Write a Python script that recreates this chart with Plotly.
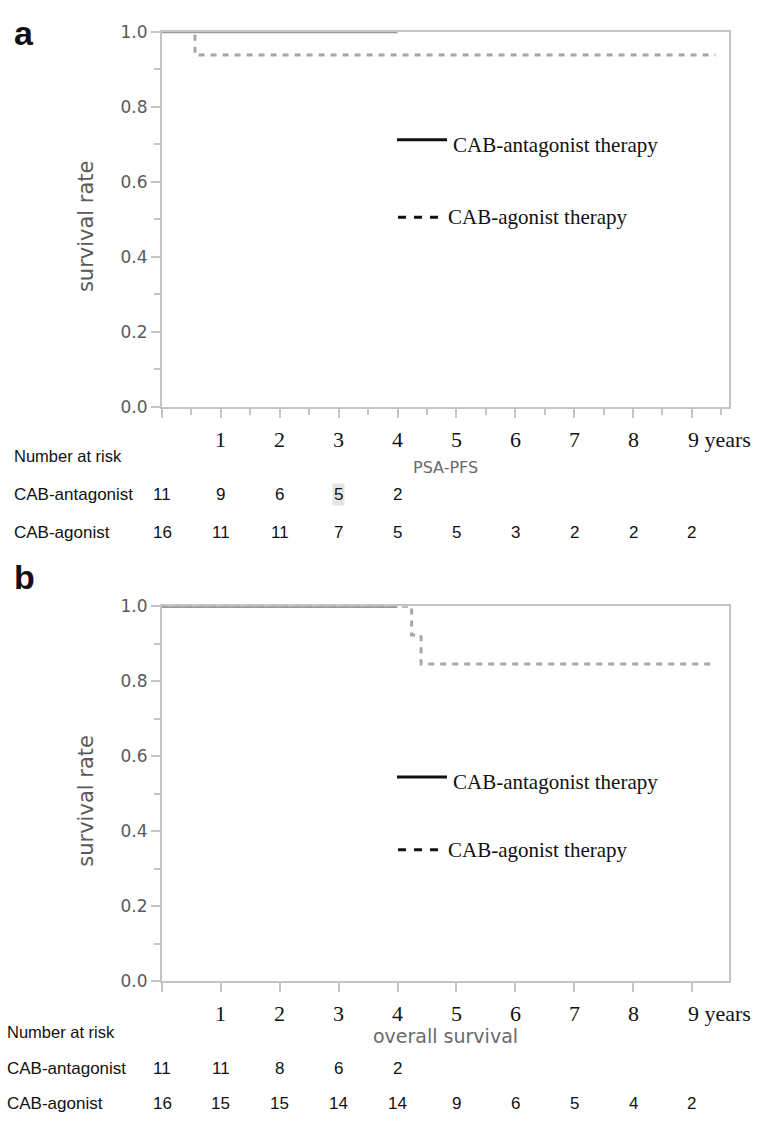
import plotly.graph_objects as go

W, H = 765, 1125

# ---------------- data ----------------
years = [0, 1, 2, 3, 4, 5, 6, 7, 8, 9]
tick_labels = ["1", "2", "3", "4", "5", "6", "7", "8", "9 years"]

# Panel a: PSA-PFS
a_antag_t = [0, 4.0]
a_antag_s = [1.0, 1.0]
a_agon_t = [0, 0.56, 9.4]
a_agon_s = [1.0, 0.9375, 0.9375]
a_risk_antag = [11, 9, 6, 5, 2]
a_risk_agon = [16, 11, 11, 7, 5, 5, 3, 2, 2, 2]

# Panel b: overall survival
b_antag_t = [0, 4.0]
b_antag_s = [1.0, 1.0]
b_agon_t = [0, 4.24, 4.4, 9.4]
b_agon_s = [1.0, 0.923, 0.846, 0.846]
b_risk_antag = [11, 11, 8, 6, 2]
b_risk_agon = [16, 15, 15, 14, 14, 9, 6, 5, 4, 2]

# ---------------- helpers ----------------
def px(p):
    return p / W

def py(p):
    return 1 - p / H

AX_COL = "#c4c4c4"
CURVE_SOLID = "#9a9a9a"
CURVE_DASH = "#a6a6a6"
TICK_FONT = dict(family="DejaVu Sans", size=17, color="#5a5a5a")
SERIF = "Liberation Serif"
SANS = "Liberation Sans"

fig = go.Figure()

for (t, s, xa, ya, dash, col, w) in [
    (a_agon_t, a_agon_s, "x", "y", "6px,6px", CURVE_DASH, 3),
    (a_antag_t, a_antag_s, "x", "y", "solid", CURVE_SOLID, 3.5),
    (b_agon_t, b_agon_s, "x2", "y2", "6px,6px", CURVE_DASH, 3),
    (b_antag_t, b_antag_s, "x2", "y2", "solid", CURVE_SOLID, 3.5),
]:
    fig.add_trace(go.Scatter(x=t, y=s, xaxis=xa, yaxis=ya, mode="lines",
                             line=dict(color=col, width=w, dash=dash, shape="hv"),
                             showlegend=False, hoverinfo="skip", cliponaxis=False))

xdom = [px(162), px(729)]
xrange_ = [0, 9.63]

def xaxis(minor):
    d = dict(domain=xdom, range=xrange_, tickvals=years, showticklabels=False,
             ticks="outside", ticklen=9, tickwidth=2, tickcolor=AX_COL,
             showline=True, linecolor=AX_COL, linewidth=2, mirror=True,
             showgrid=False, zeroline=False, fixedrange=True)
    if minor:
        d["minor"] = dict(tick0=0, dtick=0.5, ticks="outside", ticklen=6,
                          tickwidth=1.5, tickcolor=AX_COL, showgrid=False)
    return d

def yaxis(dom, anchor):
    return dict(domain=dom, range=[0, 1.0], anchor=anchor,
                tickvals=[0, 0.2, 0.4, 0.6, 0.8, 1.0],
                ticktext=["0.0", "0.2", "0.4", "0.6", "0.8", "1.0"],
                ticks="outside", ticklen=9, tickwidth=2, tickcolor=AX_COL,
                tickfont=TICK_FONT,
                minor=dict(tick0=0, dtick=0.1, ticks="outside", ticklen=6,
                           tickwidth=1.5, tickcolor=AX_COL, showgrid=False),
                showline=True, linecolor=AX_COL, linewidth=2, mirror=True,
                showgrid=False, zeroline=False, fixedrange=True)

fig.update_layout(
    width=W, height=H,
    margin=dict(l=0, r=0, t=0, b=0),
    paper_bgcolor="white", plot_bgcolor="white",
    xaxis=dict(xaxis(True), anchor="y"),
    yaxis=yaxis([py(404), py(22)], "x"),
    xaxis2=dict(xaxis(False), anchor="y2"),
    yaxis2=yaxis([py(989), py(607)], "x2"),
    showlegend=False,
)

ann = []
shapes = []

def add_panel(label, label_y, xref, ytitle_y, tick_y, nar_y, title, title_y, title_size,
              row1_y, row2_y, left_x, risk1, risk2, leg1_y, leg2_y, highlight=None):
    ann.append(dict(text="<b>%s</b>" % label, x=px(12), y=py(label_y), xref="paper", yref="paper",
                    xanchor="left", yanchor="middle", showarrow=False,
                    font=dict(family=SANS, size=34, color="#111")))
    for yr, lab in zip(years[1:], tick_labels):
        d = dict(text=lab, x=yr, y=py(tick_y), xref=xref, yref="paper",
                 xanchor="center", yanchor="middle", showarrow=False,
                 font=dict(family=SERIF, size=22, color="#111"))
        if lab.endswith("years"):
            d["xanchor"] = "left"
            d["xshift"] = -6
        ann.append(d)
    ann.append(dict(text="survival rate", x=px(86), y=py(ytitle_y), xref="paper", yref="paper",
                    textangle=-90, xanchor="center", yanchor="middle", showarrow=False,
                    font=dict(family="DejaVu Sans", size=21, color="#5a5a5a")))
    ann.append(dict(text=title, x=px(445), y=py(title_y), xref="paper", yref="paper",
                    xanchor="center", yanchor="middle", showarrow=False,
                    font=dict(family="DejaVu Sans", size=title_size, color="#6a6a6a")))
    rowfont = dict(family=SANS, size=17, color="#111")
    ann.append(dict(text="Number at risk", x=px(left_x), y=py(nar_y), xref="paper", yref="paper",
                    xanchor="left", yanchor="middle", showarrow=False,
                    font=dict(family=SANS, size=16.5, color="#111")))
    ann.append(dict(text="CAB-antagonist", x=px(left_x), y=py(row1_y), xref="paper", yref="paper",
                    xanchor="left", yanchor="middle", showarrow=False, font=rowfont))
    ann.append(dict(text="CAB-agonist", x=px(left_x), y=py(row2_y), xref="paper", yref="paper",
                    xanchor="left", yanchor="middle", showarrow=False, font=rowfont))
    for i, v in enumerate(risk1):
        d = dict(text=str(v), x=years[i], y=py(row1_y), xref=xref, yref="paper",
                 xanchor="center", yanchor="middle", showarrow=False, font=rowfont)
        if highlight is not None and i == highlight:
            d["bgcolor"] = "#e4e4e4"
            d["borderpad"] = 1
        ann.append(d)
    for i, v in enumerate(risk2):
        ann.append(dict(text=str(v), x=years[i], y=py(row2_y), xref=xref, yref="paper",
                        xanchor="center", yanchor="middle", showarrow=False, font=rowfont))
    # legend keys and labels
    shapes.append(dict(type="line", xref="paper", yref="paper", x0=px(397), x1=px(447),
                       y0=py(leg1_y), y1=py(leg1_y), line=dict(color="#111", width=3)))
    ann.append(dict(text="CAB-antagonist therapy", x=px(451), y=py(leg1_y + 5), xref="paper", yref="paper",
                    xanchor="left", yanchor="middle", showarrow=False,
                    font=dict(family=SERIF, size=21, color="#111")))
    shapes.append(dict(type="line", xref="paper", yref="paper", x0=px(398), x1=px(442),
                       y0=py(leg2_y), y1=py(leg2_y), line=dict(color="#111", width=3, dash="8px,8px")))
    ann.append(dict(text="CAB-agonist therapy", x=px(446), y=py(leg2_y), xref="paper", yref="paper",
                    xanchor="left", yanchor="middle", showarrow=False,
                    font=dict(family=SERIF, size=21, color="#111")))

add_panel("a", 23, "x", 220, 437, 454, "PSA-PFS", 466, 16, 493, 532, 12,
          a_risk_antag, a_risk_agon, 132, 211, highlight=3)
add_panel("b", 577, "x2", 805, 1022, 1040, "overall survival", 1045, 19, 1078, 1113, 5,
          b_risk_antag, b_risk_agon, 781, 855)

fig.update_layout(annotations=ann, shapes=shapes)
fig.write_html("out.html", config={"displayModeBar": False},
               post_script="document.body.style.margin='0';document.body.style.padding='0';")
